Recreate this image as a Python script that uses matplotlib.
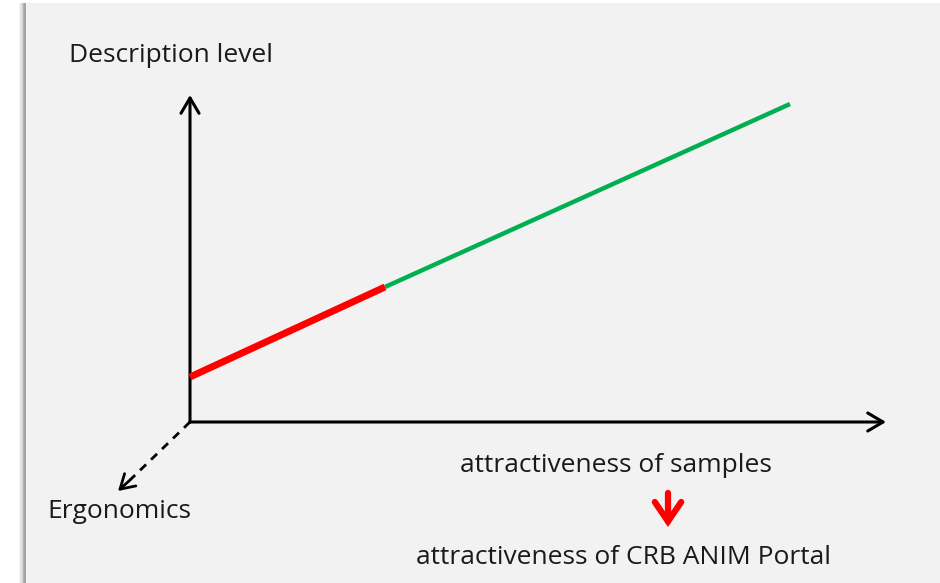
import matplotlib.pyplot as plt
from matplotlib.patches import Rectangle

plt.rcParams['font.family'] = ['Open Sans', 'DejaVu Sans']

# diagram geometry (pixel space of the slide)
origin = (190, 422)
y_axis_top = (190, 95)
x_axis_end = (886, 422)
depth_end = (118, 491)
depth_head_start = (130, 480)
red_x = [190, 385]
red_y = [377, 287]
green_x = [385, 790]
green_y = [287, 104]
down_arrow = [(668, 493), (668, 527)]

labels = {
    "Description level": (171, 55),
    "attractiveness of samples": (616, 465),
    "Ergonomics": (119, 512),
    "attractiveness of CRB ANIM Portal": (623, 557),
}

fig = plt.figure(figsize=(9.4, 5.83), dpi=100)
fig.patch.set_facecolor('white')
ax = fig.add_axes([0, 0, 1, 1])
ax.set_xlim(0, 940)
ax.set_ylim(583, 0)
ax.axis('off')

# slide background with a soft left shadow
for i, c in enumerate(['#f4f4f4', '#e4e4e4', '#cdcdcd', '#b5b5b5', '#a5a5a5']):
    ax.add_patch(Rectangle((19 + i * 1.3, 3), 8, 600, color=c, lw=0, zorder=0))
ax.add_patch(Rectangle((26, 3), 940, 600, color='#f2f2f2', lw=0, zorder=1))

arrow_kw = dict(arrowstyle='->,head_length=1.1,head_width=0.65', color='black', lw=2.2,
                shrinkA=0, shrinkB=0)
ax.annotate('', xy=y_axis_top, xytext=origin, arrowprops=arrow_kw, zorder=3)
ax.annotate('', xy=x_axis_end, xytext=origin, arrowprops=arrow_kw, zorder=3)

# dashed depth axis, solid head
ax.plot([origin[0], depth_head_start[0]], [origin[1], depth_head_start[1]],
        color='black', lw=2, ls=(0, (3, 2.5)), zorder=3)
ax.annotate('', xy=depth_end, xytext=depth_head_start,
            arrowprops=dict(arrowstyle='->,head_length=1.0,head_width=0.6', color='black',
                            lw=2, shrinkA=0, shrinkB=0), zorder=3)

ax.plot(green_x, green_y, color='#00b050', lw=3.2, solid_capstyle='butt', zorder=4)
ax.plot(red_x, red_y, color='#ff0000', lw=5, solid_capstyle='butt', zorder=5)

ax.annotate('', xy=down_arrow[1], xytext=down_arrow[0],
            arrowprops=dict(arrowstyle='->,head_length=1.4,head_width=0.95', color='#ff0000',
                            lw=4.5, shrinkA=0, shrinkB=0, joinstyle='miter', capstyle='round'),
            zorder=5)

for txt, (x, y) in labels.items():
    ax.text(x, y, txt, fontsize=19, ha='center', va='center', color='#1a1a1a', zorder=6)

fig.savefig('out.png', dpi=100, facecolor='white')
